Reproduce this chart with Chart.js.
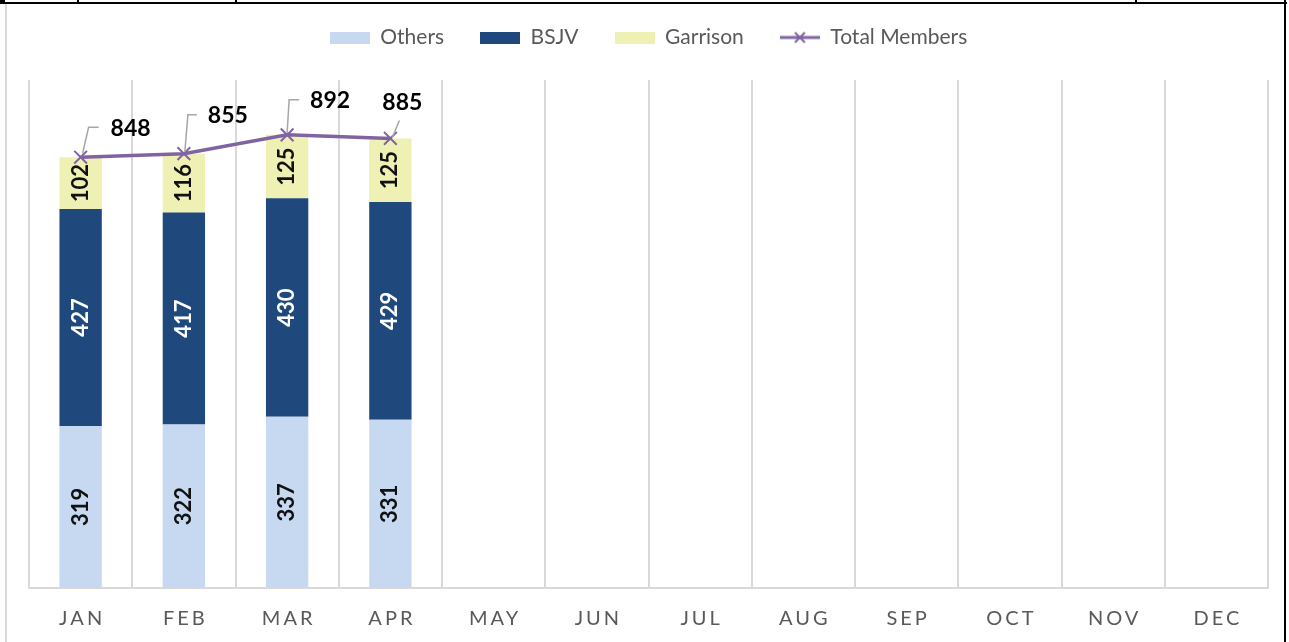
<!DOCTYPE html>
<html>
<head>
<meta charset="utf-8">
<title>Members by month</title>
<script src="https://cdn.jsdelivr.net/npm/chart.js@4.4.1/dist/chart.umd.min.js"></script>
<style>
    body { margin: 0; background: #fff; }
    #wrap { position: relative; width: 1289px; height: 642px; overflow: hidden; background: #fff; }
    #membersChart { position: absolute; left: 0; top: 0; }
    .rule { position: absolute; background: #000; }
    .frame { position: absolute; background: #d9d9d9; }
</style>
</head>
<body>
<div id="wrap">
    <canvas id="membersChart" width="1289" height="642"></canvas>
    <!-- bits of the page around the chart -->
    <div class="rule" style="left:0;top:2px;width:1287px;height:2px"></div>
    <div class="rule" style="left:0;top:0;width:5px;height:3px"></div>
    <div class="rule" style="left:77px;top:0;width:2px;height:3px"></div>
    <div class="rule" style="left:235px;top:0;width:2px;height:3px"></div>
    <div class="rule" style="left:1135px;top:0;width:2px;height:3px"></div>
    <div class="rule" style="left:1284px;top:0;width:2px;height:642px"></div>
    <div class="frame" style="left:5px;top:4px;width:2px;height:638px"></div>
</div>

<script>
// chart data
const months = ['JAN', 'FEB', 'MAR', 'APR', 'MAY', 'JUN', 'JUL', 'AUG', 'SEP', 'OCT', 'NOV', 'DEC'];
const others = [319, 322, 337, 331];
const bsjv = [427, 417, 430, 429];
const garrison = [102, 116, 125, 125];
const totalMembers = [848, 855, 892, 885];

const FONT = 'Lato, Carlito, Calibri, sans-serif';
Chart.defaults.font.family = FONT;

// little canvases used as legend icons
function swatch(color) {
    const c = document.createElement('canvas');
    c.width = 40;
    c.height = 12;
    const g = c.getContext('2d');
    g.fillStyle = color;
    g.fillRect(0, 0, 40, 12);
    return c;
}

function lineSwatch(color) {
    const c = document.createElement('canvas');
    c.width = 40;
    c.height = 14;
    const g = c.getContext('2d');
    g.strokeStyle = color;
    g.lineWidth = 3;
    g.beginPath();
    g.moveTo(0, 7);
    g.lineTo(40, 7);
    g.stroke();
    g.lineWidth = 2;
    g.beginPath();
    g.moveTo(15, 2); g.lineTo(25, 12);
    g.moveTo(25, 2); g.lineTo(15, 12);
    g.stroke();
    return c;
}

const legendIcons = [swatch('#c6d9f0'), swatch('#1f497d'), swatch('#eff0b4'), lineSwatch('#8064a2')];

// add space under the legend
const legendGap = {
    id: 'legendGap',
    beforeInit(chart) {
        const fit = chart.legend.fit;
        chart.legend.fit = function() {
            fit.bind(chart.legend)();
            this.height += 22;
        };
    }
};

// spaced out month labels
const xLetterSpacing = {
    id: 'xLetterSpacing',
    afterLayout(chart) {
        const scale = chart.scales.x;
        if (scale._spaced) return;
        const drawLabels = scale.drawLabels;
        scale.drawLabels = function(area) {
            const ctx = this.ctx;
            ctx.save();
            ctx.letterSpacing = '3px';
            ctx.translate(1.5, 0);
            drawLabels.call(this, area);
            ctx.restore();
        };
        scale._spaced = true;
    }
};

// rotated numbers inside the bars
const barLabels = {
    id: 'barLabels',
    afterDatasetsDraw(chart) {
        const ctx = chart.ctx;
        const textColors = ['#111', '#fff', '#111'];
        [0, 1, 2].forEach(di => {
            const meta = chart.getDatasetMeta(di);
            const values = chart.data.datasets[di].data;
            meta.data.forEach((bar, i) => {
                if (!values[i]) return;
                ctx.save();
                ctx.translate(bar.x, (bar.y + bar.base) / 2);
                ctx.rotate(-Math.PI / 2);
                ctx.font = 'bold 22px ' + FONT;
                ctx.fillStyle = textColors[di];
                ctx.textAlign = 'center';
                ctx.textBaseline = 'middle';
                ctx.fillText(values[i], 0, 0);
                ctx.restore();
            });
        });
    }
};

// totals above the line, with leader lines
const labelOffsets = [[50, -29], [44, -38], [43, -34], [12, -36]];
const leaderPaths = [
    [[2, -4], [8, -30], [18, -30]],
    [[1, -2], [4, -39], [13, -39]],
    [[0, -2], [2, -35], [12, -35]],
    [[2, -1], [9, -18]]
];

const totalLabels = {
    id: 'totalLabels',
    afterDatasetsDraw(chart) {
        const ctx = chart.ctx;
        const meta = chart.getDatasetMeta(3);
        meta.data.forEach((pt, i) => {
            if (totalMembers[i] == null) return;
            ctx.save();
            ctx.strokeStyle = '#a6a6a6';
            ctx.lineWidth = 1.5;
            ctx.beginPath();
            leaderPaths[i].forEach((p, k) => {
                if (k === 0) ctx.moveTo(pt.x + p[0], pt.y + p[1]);
                else ctx.lineTo(pt.x + p[0], pt.y + p[1]);
            });
            ctx.stroke();
            ctx.font = 'bold 23px ' + FONT;
            ctx.fillStyle = '#000';
            ctx.textAlign = 'center';
            ctx.textBaseline = 'middle';
            ctx.fillText(totalMembers[i], pt.x + labelOffsets[i][0], pt.y + labelOffsets[i][1]);
            ctx.restore();
        });
    }
};

const ctx = document.getElementById('membersChart').getContext('2d');

window.membersChart = new Chart(ctx, {
    type: 'bar',
    data: {
        labels: months,
        datasets: [
            {
                label: 'Others',
                data: others,
                backgroundColor: '#c6d9f0',
                stack: 'members',
                order: 1
            },
            {
                label: 'BSJV',
                data: bsjv,
                backgroundColor: '#1f497d',
                stack: 'members',
                order: 1
            },
            {
                label: 'Garrison',
                data: garrison,
                backgroundColor: '#eff0b4',
                stack: 'members',
                order: 1
            },
            {
                type: 'line',
                label: 'Total Members',
                data: totalMembers,
                borderColor: '#8064a2',
                backgroundColor: '#8064a2',
                borderWidth: 3.5,
                pointStyle: 'crossRot',
                pointRadius: 9,
                pointBorderWidth: 2,
                pointBorderColor: '#8064a2',
                tension: 0,
                stack: 'total',
                order: 0
            }
        ]
    },
    options: {
        responsive: false,
        animation: false,
        datasets: {
            bar: {
                categoryPercentage: 1,
                barPercentage: 0.41
            }
        },
        layout: {
            padding: { top: -9, left: 29, right: 21, bottom: -8 }
        },
        plugins: {
            tooltip: { enabled: false },
            legend: {
                position: 'top',
                labels: {
                    usePointStyle: true,
                    pointStyleWidth: 40,
                    padding: 36,
                    color: '#595959',
                    font: { size: 21 },
                    sort: (a, b) => a.datasetIndex - b.datasetIndex,
                    generateLabels: function(chart) {
                        const items = Chart.defaults.plugins.legend.labels.generateLabels(chart);
                        items.forEach(item => {
                            item.pointStyle = legendIcons[item.datasetIndex];
                        });
                        return items;
                    }
                }
            }
        },
        scales: {
            x: {
                stacked: true,
                grid: {
                    offset: true,
                    color: '#d9d9d9',
                    lineWidth: 2,
                    drawTicks: false
                },
                border: { color: '#d9d9d9', width: 2 },
                ticks: {
                    color: '#595959',
                    font: { size: 20 },
                    padding: 19,
                    maxRotation: 0,
                    autoSkip: false
                }
            },
            y: {
                stacked: true,
                display: false,
                min: 0,
                max: 1000
            }
        }
    },
    plugins: [legendGap, xLetterSpacing, barLabels, totalLabels]
});
</script>
</body>
</html>
